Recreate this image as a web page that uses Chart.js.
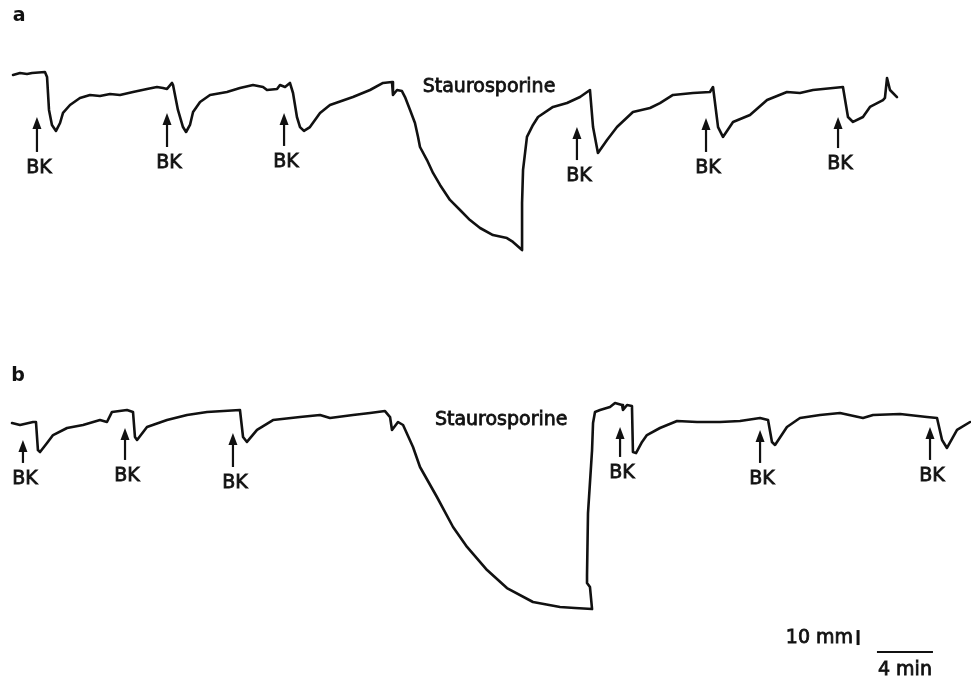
<!DOCTYPE html>
<html>
<head>
<meta charset="utf-8">
<title>Staurosporine traces</title>
<script src="https://cdn.jsdelivr.net/npm/chart.js@4.4.1/dist/chart.umd.min.js"></script>
<style>
  html, body { margin: 0; padding: 0; background: #fff; }
  #wrap { width: 971px; height: 680px; }
</style>
</head>
<body>
<div id="wrap"><canvas id="chart" width="971" height="680"></canvas></div>
<script>
  // trace a: time (min) and tension change (mm) relative to the baseline
  var timeA = [0.93, 1.43, 1.93, 2.29, 3.21, 3.36, 3.50, 3.71, 4.00, 4.29, 4.50, 5.00, 5.71, 6.43, 7.14, 7.86, 8.57, 9.50, 10.50,
    11.21, 11.64, 11.93, 12.29, 12.36, 12.71, 13.07, 13.29, 13.57, 13.79, 14.29, 15.00, 16.21, 17.14, 18.07, 18.79, 19.07,
    19.79, 20.00, 20.36, 20.71, 20.93, 21.21, 21.43, 21.71, 22.14, 22.50, 22.86, 23.57, 25.21, 26.43, 27.36,
    28.00, 28.07, 28.36, 28.71, 28.93, 29.29, 29.64, 29.86, 30.00, 30.50, 30.93, 31.43, 32.14, 32.86, 33.57, 34.29, 35.21,
    36.21, 36.64, 37.29, 37.29, 37.36, 37.64, 38.07, 38.43,
    39.50, 40.50, 41.43, 42.14, 42.36, 42.71, 43.36, 44.07, 45.21, 46.43, 47.14, 48.07, 49.50, 50.71,
    50.93, 51.29, 51.64, 52.36, 53.57, 54.79, 56.21, 57.14, 58.07, 60.21, 60.57, 60.93, 61.64, 62.14, 63.07, 63.21, 63.36,
    63.57, 64.07];
  var mmA = [-2.0, -0.7, -1.3, -0.7, 0, -3.3, -25.3, -35.3, -39.3, -34.0, -27.3, -22.0, -17.3, -15.3, -16.0, -14.7, -15.3, -13.3, -11.3,
    -10.0, -10.7, -11.3, -7.3, -8.7, -25.3, -36.7, -40.0, -35.3, -26.7, -20.0, -15.3, -13.3, -10.7, -8.7, -10.0, -12.0,
    -11.3, -8.7, -10.0, -7.3, -14.0, -30.0, -36.7, -39.3, -36.7, -32.0, -27.3, -22.0, -16.7, -12.0, -7.3,
    -6.7, -15.3, -12.0, -12.7, -16.7, -25.3, -34.0, -43.3, -50.0, -58.7, -67.3, -75.3, -85.3, -92.0, -98.7, -104.0, -108.7,
    -110.7, -113.3, -118.7, -87.3, -65.3, -43.3, -35.3, -30.0,
    -23.3, -20.7, -16.7, -12.0, -36.7, -54.0, -45.3, -36.7, -26.7, -24.0, -20.7, -15.3, -14.0, -13.3,
    -10.0, -36.7, -43.3, -33.3, -28.7, -18.7, -13.3, -14.0, -12.0, -10.0, -30.0, -33.3, -30.0, -23.3, -18.7, -17.3, -4.0,
    -12.0, -16.7];

  // trace b
  var timeB = [0.86, 1.43, 2.36, 2.57, 2.71, 2.86, 3.36, 3.79, 4.79, 5.93, 7.14, 7.64, 8.00, 9.07, 9.50, 9.64, 9.79, 10.50, 11.93,
    13.36, 14.79, 17.14, 17.36, 17.64, 18.36, 19.50, 21.43, 22.86, 23.57, 25.21, 26.43, 27.50, 27.86, 28.00, 28.43, 28.79,
    29.50, 30.00, 31.21, 32.36, 33.36, 34.79, 36.21, 38.07, 40.00, 41.07, 42.29, 42.14, 41.93, 41.93, 42.00, 42.29, 42.36,
    42.50, 42.86, 43.57, 43.93, 44.43, 44.50, 44.79, 45.14, 45.21, 45.43, 45.86, 46.21,
    47.14, 48.36, 49.79, 51.43, 52.86, 54.29, 54.86, 55.14, 55.36, 56.21, 57.14,
    58.57, 60.00, 61.64, 62.36, 64.29, 66.21, 66.93, 67.29, 67.64, 68.36, 69.29];
  var mmB = [-8.7, -10.0, -8.0, -8.0, -26.7, -28.0, -22.0, -16.7, -12.0, -10.0, -6.7, -8.0, -1.3, 0, -1.3, -18.0, -20.0, -11.3, -6.7,
    -3.3, -1.3, 0, -18.0, -21.3, -13.3, -6.7, -4.7, -3.3, -5.3, -3.3, -2.0, -0.7, -4.7, -13.3, -8.0, -10.0,
    -24.7, -38.0, -58.0, -78.0, -91.3, -106.7, -118.7, -128.0, -131.3, -132.0, -132.7, -118.0, -115.3, -110.0, -68.7, -26.7, -8.7,
    -1.3, 0, 2.0, 4.7, 3.3, 0, 3.3, 2.7, -28.0, -28.7, -21.3, -16.7,
    -12.0, -7.3, -8.0, -8.0, -7.3, -5.3, -6.7, -21.3, -23.3, -11.3, -5.3,
    -3.3, -2.0, -5.3, -3.3, -2.7, -4.7, -5.3, -20.0, -25.3, -13.3, -8.0];

  // bradykinin additions: time, arrow tip level, arrow tail level (mm)
  var bkTimeA = [2.64, 11.93, 20.29, 41.21, 50.43, 59.86];
  var bkTipA = [-30.0, -27.3, -27.3, -36.7, -30.7, -30.0];
  var bkTailA = [-53.3, -50.0, -49.3, -58.7, -53.3, -50.7];
  var bkTimeB = [1.64, 8.93, 16.64, 44.29, 54.29, 66.43];
  var bkTipB = [-20.0, -12.0, -15.3, -11.3, -13.3, -11.3];
  var bkTailB = [-35.3, -33.3, -38.0, -31.3, -35.3, -33.3];

  var stauroA = { t: 34.93, mm: -10.0 };
  var stauroB = { t: 35.80, mm: -6.7 };

  // calibration bars (panel b units)
  var barMm = 10, barMin = 4;
  var barVert = { t: 61.29, mm: -156.7 };
  var barHoriz = { t: 62.64, mm: -161.3 };

  var INK = '#111';
  var PX_PER_MIN = 14, PX_PER_MM = 1.5;
  var H = 680, W = 971;
  var baseA = 72, baseB = 410; // baseline rows

  function pts(ts, ys) {
    return ts.map(function (t, i) { return { x: t, y: ys[i] }; });
  }

  function label(ctx, txt, x, y) {
    // print-like medium weight
    ctx.fillText(txt, x, y);
    ctx.strokeText(txt, x, y);
  }

  function drawArrow(ctx, x, yTip, yTail) {
    ctx.beginPath();
    ctx.moveTo(x, yTail);
    ctx.lineTo(x, yTip + 8);
    ctx.lineWidth = 2.2;
    ctx.strokeStyle = INK;
    ctx.stroke();
    ctx.beginPath();
    ctx.moveTo(x, yTip);
    ctx.lineTo(x - 4.5, yTip + 12);
    ctx.lineTo(x + 4.5, yTip + 12);
    ctx.closePath();
    ctx.fillStyle = INK;
    ctx.fill();
  }

  var marks = {
    id: 'marks',
    afterDatasetsDraw: function (chart) {
      var ctx = chart.ctx;
      var sx = chart.scales.x, ya = chart.scales.ya, yb = chart.scales.yb;
      ctx.save();
      ctx.textAlign = 'center';
      ctx.textBaseline = 'middle';

      function setText() {
        ctx.font = '19px "DejaVu Sans"';
        ctx.fillStyle = INK;
        ctx.strokeStyle = INK;
        ctx.lineWidth = 0.8;
      }

      function bk(times, tips, tails, ys) {
        times.forEach(function (t, i) {
          var x = sx.getPixelForValue(t);
          var tail = ys.getPixelForValue(tails[i]);
          drawArrow(ctx, x, ys.getPixelForValue(tips[i]), tail);
          setText();
          label(ctx, 'BK', x + 2, tail + 16);
        });
      }
      bk(bkTimeA, bkTipA, bkTailA, ya);
      bk(bkTimeB, bkTipB, bkTailB, yb);

      setText();
      label(ctx, 'Staurosporine', sx.getPixelForValue(stauroA.t), ya.getPixelForValue(stauroA.mm));
      label(ctx, 'Staurosporine', sx.getPixelForValue(stauroB.t), yb.getPixelForValue(stauroB.mm));

      ctx.font = 'bold 19px "DejaVu Sans"';
      ctx.fillText('a', sx.getPixelForValue(1.36), ya.getPixelForValue(37));
      ctx.fillText('b', sx.getPixelForValue(1.29), yb.getPixelForValue(22.7));

      // calibration
      var vx = sx.getPixelForValue(barVert.t);
      ctx.lineWidth = 3;
      ctx.strokeStyle = INK;
      ctx.beginPath();
      ctx.moveTo(vx, yb.getPixelForValue(barVert.mm));
      ctx.lineTo(vx, yb.getPixelForValue(barVert.mm + barMm));
      ctx.stroke();
      var hy = yb.getPixelForValue(barHoriz.mm);
      ctx.lineWidth = 2;
      ctx.beginPath();
      ctx.moveTo(sx.getPixelForValue(barHoriz.t), hy);
      ctx.lineTo(sx.getPixelForValue(barHoriz.t + barMin), hy);
      ctx.stroke();
      setText();
      ctx.textAlign = 'right';
      label(ctx, barMm + ' mm', vx - 5, yb.getPixelForValue(barVert.mm + barMm / 2) + 1);
      ctx.textAlign = 'center';
      label(ctx, barMin + ' min', sx.getPixelForValue(barHoriz.t + barMin / 2), hy + 18);
      ctx.restore();
    }
  };

  new Chart(document.getElementById('chart').getContext('2d'), {
    type: 'line',
    data: {
      datasets: [
        { label: 'a', data: pts(timeA, mmA), yAxisID: 'ya' },
        { label: 'b', data: pts(timeB, mmB), yAxisID: 'yb' }
      ]
    },
    options: {
      responsive: false,
      animation: false,
      devicePixelRatio: 1,
      layout: { padding: 0 },
      elements: {
        line: { borderColor: INK, borderWidth: 2.6, tension: 0, borderJoinStyle: 'round', borderCapStyle: 'round' },
        point: { radius: 0, hoverRadius: 0 }
      },
      plugins: { legend: { display: false }, tooltip: { enabled: false } },
      scales: {
        x: { type: 'linear', display: false, min: 0, max: W / PX_PER_MIN },
        ya: { type: 'linear', display: false, min: (baseA - H) / PX_PER_MM, max: baseA / PX_PER_MM },
        yb: { type: 'linear', display: false, min: (baseB - H) / PX_PER_MM, max: baseB / PX_PER_MM }
      }
    },
    plugins: [marks]
  });
</script>
</body>
</html>
